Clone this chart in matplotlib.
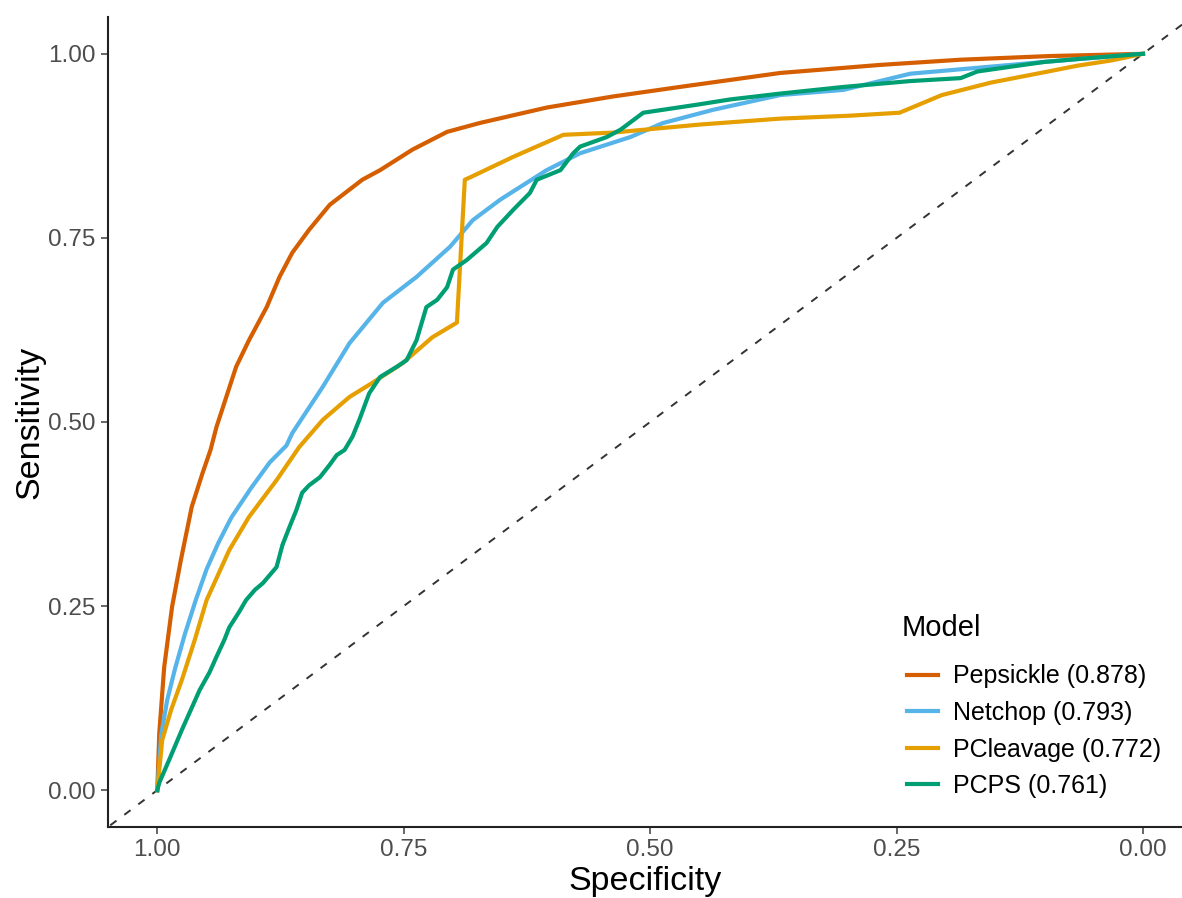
import matplotlib
matplotlib.use('Agg')
import matplotlib.pyplot as plt
import numpy as np

plt.rcParams['font.family'] = ['Liberation Sans', 'DejaVu Sans']

# ROC curves: (specificity, sensitivity)
pepsickle_spec = [1.000, 0.998, 0.993, 0.985, 0.976, 0.965, 0.954, 0.946, 0.940, 0.930, 0.920, 0.907,
                  0.889, 0.876, 0.863, 0.846, 0.825, 0.792, 0.774, 0.741, 0.706, 0.673, 0.605, 0.538,
                  0.470, 0.368, 0.266, 0.185, 0.094, 0.000]
pepsickle_sens = [0.000, 0.077, 0.167, 0.249, 0.313, 0.385, 0.431, 0.462, 0.493, 0.534, 0.575, 0.611,
                  0.656, 0.697, 0.730, 0.761, 0.795, 0.829, 0.842, 0.870, 0.894, 0.906, 0.927, 0.942,
                  0.955, 0.974, 0.985, 0.992, 0.997, 1.000]

netchop_spec = [1.000, 0.996, 0.990, 0.982, 0.972, 0.961, 0.950, 0.938, 0.925, 0.905, 0.886, 0.869,
                0.863, 0.832, 0.805, 0.771, 0.737, 0.703, 0.680, 0.652, 0.605, 0.571, 0.520, 0.487,
                0.436, 0.368, 0.304, 0.236, 0.168, 0.100, 0.000]
netchop_sens = [0.000, 0.075, 0.122, 0.165, 0.212, 0.258, 0.300, 0.336, 0.370, 0.410, 0.445, 0.468,
                0.485, 0.548, 0.607, 0.662, 0.697, 0.738, 0.774, 0.802, 0.842, 0.865, 0.887, 0.906,
                0.924, 0.944, 0.951, 0.973, 0.981, 0.989, 1.000]

pcleavage_spec = [1.000, 0.995, 0.986, 0.975, 0.962, 0.950, 0.927, 0.907, 0.879, 0.856, 0.832, 0.805,
                  0.782, 0.751, 0.721, 0.696, 0.688, 0.683, 0.639, 0.588, 0.538, 0.449, 0.368, 0.297,
                  0.247, 0.204, 0.154, 0.100, 0.066, 0.032, 0.000]
pcleavage_sens = [0.000, 0.068, 0.109, 0.150, 0.204, 0.258, 0.326, 0.371, 0.421, 0.466, 0.503, 0.534,
                  0.553, 0.580, 0.615, 0.635, 0.829, 0.832, 0.860, 0.890, 0.893, 0.904, 0.912, 0.916,
                  0.920, 0.944, 0.961, 0.975, 0.984, 0.991, 1.000]

pcps_spec = [1.000, 0.998, 0.988, 0.975, 0.967, 0.957, 0.947, 0.940, 0.932, 0.927, 0.917, 0.910,
             0.901, 0.893, 0.886, 0.879, 0.873, 0.866, 0.859, 0.853, 0.846, 0.835, 0.825, 0.818,
             0.810, 0.802, 0.795, 0.785, 0.774, 0.757, 0.747, 0.737, 0.727, 0.716, 0.706, 0.700,
             0.686, 0.666, 0.655, 0.639, 0.622, 0.615, 0.591, 0.578, 0.571, 0.544, 0.530, 0.507,
             0.487, 0.452, 0.419, 0.368, 0.304, 0.236, 0.185, 0.168, 0.100, 0.066, 0.000]
pcps_sens = [0.000, 0.010, 0.041, 0.082, 0.106, 0.136, 0.160, 0.181, 0.204, 0.221, 0.242, 0.258,
             0.272, 0.281, 0.292, 0.303, 0.333, 0.357, 0.380, 0.404, 0.414, 0.425, 0.442, 0.455,
             0.462, 0.480, 0.503, 0.539, 0.561, 0.575, 0.584, 0.611, 0.656, 0.666, 0.683, 0.707,
             0.720, 0.743, 0.765, 0.788, 0.811, 0.829, 0.842, 0.865, 0.874, 0.887, 0.897, 0.920,
             0.924, 0.931, 0.938, 0.946, 0.955, 0.963, 0.967, 0.976, 0.989, 0.993, 1.000]

models = ['Pepsickle (0.878)', 'Netchop (0.793)', 'PCleavage (0.772)', 'PCPS (0.761)']
clrs = ['#D55E00', '#56B4E9', '#E69F00', '#009E73']
curves = [(pepsickle_spec, pepsickle_sens), (netchop_spec, netchop_sens),
          (pcleavage_spec, pcleavage_sens), (pcps_spec, pcps_sens)]

fig = plt.figure(figsize=(11.82, 8.98), dpi=100)
ax = fig.add_axes([108 / 1182, 71 / 898, 1 - 108 / 1182, 810 / 898])

ax.axline((1, 0), (0, 1), c='#333333', ls=(0, (4, 5)), lw=1.4, zorder=1)
for (sp, se), name, c in zip(curves, models, clrs):
    ax.plot(sp, se, c=c, lw=3.0, label=name, solid_joinstyle='round', zorder=2)

ax.set_xlim(1.05, -0.0396)
ax.set_ylim(-0.05, 1.05)
ticks = [0, 0.25, 0.5, 0.75, 1.0]
ax.set_xticks(ticks)
ax.set_yticks(ticks)
ax.set_xticklabels([f'{t:.2f}' for t in ticks])
ax.set_yticklabels([f'{t:.2f}' for t in ticks])
ax.tick_params(labelsize=17.5, colors='#4D4D4D', length=5, width=1.2, labelcolor='#4D4D4D', pad=4)
for s in ['top', 'right']:
    ax.spines[s].set_visible(False)
for s in ['left', 'bottom']:
    ax.spines[s].set_linewidth(1.5)
    ax.spines[s].set_color('#222222')

ax.set_xlabel('Specificity', fontsize=24.5, labelpad=3)
ax.set_ylabel('Sensitivity', fontsize=24.5, labelpad=2)

# legend title drawn separately so its gap to the entries matches
fig.text(902 / 1182, 1 - 628 / 898, 'Model', fontsize=21, va='center', ha='left')
leg = ax.legend(loc='upper left', bbox_to_anchor=(884 / 1182, 1 - 642 / 898),
                bbox_transform=fig.transFigure, frameon=False, fontsize=18,
                handlelength=1.25, handletextpad=0.6, labelspacing=0.5)

fig.savefig('out.png', dpi=100)
